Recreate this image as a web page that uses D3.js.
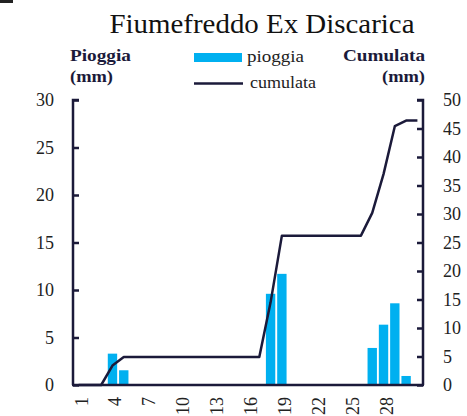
<!DOCTYPE html>
<html><head><meta charset="utf-8">
<script src="https://cdn.jsdelivr.net/npm/d3@7"></script>
<style>body{margin:0;background:#fff}svg{display:block}</style>
</head><body>
<script>
const days = d3.range(1, 32);
const pioggia = [0,0,0,3.3,1.55,0,0,0,0,0,0,0,0,0,0,0,0,9.6,11.7,0,0,0,0,0,0,0,3.9,6.35,8.6,0.95,0];
const cumulata = [0,0,0,3.4,4.9,4.9,4.9,4.9,4.9,4.9,4.9,4.9,4.9,4.9,4.9,4.9,4.9,14.5,26.2,26.2,26.2,26.2,26.2,26.2,26.2,26.2,30.2,37.0,45.4,46.4,46.4];
const leftTicks = [0,5,10,15,20,25,30];
const rightTicks = [0,5,10,15,20,25,30,35,40,45,50];
const xLabels = [1,4,7,10,13,16,19,22,25,28];

const W = 467, H = 416;
const axisCol = "#1b1a3a", barCol = "#00b0f0", txtCol = "#222";
const serif = "'Liberation Serif', 'DejaVu Serif', serif";
const svg = d3.select("body").append("svg").attr("width", W).attr("height", H);
svg.append("rect").attr("width", W).attr("height", H).attr("fill", "#fff");
svg.append("rect").attr("x", 0).attr("y", 0).attr("width", 13).attr("height", 3).attr("fill", "#222");

const x = d3.scaleBand().domain(days).range([73, 423]).paddingInner(0.17).paddingOuter(0.08);
const yL = d3.scaleLinear().domain([0, 30]).range([385, 100]);
const yR = d3.scaleLinear().domain([0, 50]).range([385, 100]);

// bars
svg.append("g").selectAll("rect").data(days).join("rect")
  .attr("x", d => x(d)).attr("width", x.bandwidth())
  .attr("y", (d, i) => yL(pioggia[i])).attr("height", (d, i) => yL(0) - yL(pioggia[i]))
  .attr("fill", barCol);

// line
const line = d3.line().x((d, i) => x(days[i]) + x.bandwidth() / 2).y(d => yR(d));
svg.append("path").datum(cumulata).attr("d", line).attr("fill", "none")
  .attr("stroke", axisCol).attr("stroke-width", 2.5).attr("stroke-linejoin", "round");

// axes
const gL = svg.append("g").attr("transform", "translate(73,0)")
  .call(d3.axisRight(yL).tickValues(leftTicks).tickSize(6).tickFormat(""));
const gR = svg.append("g").attr("transform", "translate(423,0)")
  .call(d3.axisLeft(yR).tickValues(rightTicks).tickSize(6).tickFormat(""));
[gL, gR].forEach(g => {
  g.select(".domain").attr("stroke", axisCol).attr("stroke-width", 2.5);
  g.selectAll(".tick line").attr("stroke", axisCol).attr("stroke-width", 2.5);
});
gL.select(".domain").attr("d", "M6,100H0V385");
gR.select(".domain").attr("d", "M-6,100H0V385");
svg.append("line").attr("x1", 72).attr("x2", 424).attr("y1", yL(0)).attr("y2", yL(0))
  .attr("stroke", axisCol).attr("stroke-width", 2.5);

// tick labels
svg.append("g").selectAll("text").data(leftTicks).join("text")
  .attr("x", 54).attr("y", d => yL(d)).attr("dy", "0.35em").attr("text-anchor", "end")
  .attr("font-family", serif).attr("font-size", 18).attr("fill", txtCol).text(d => d);
svg.append("g").selectAll("text").data(rightTicks).join("text")
  .attr("x", 443).attr("y", d => yR(d)).attr("dy", "0.35em").attr("text-anchor", "start")
  .attr("font-family", serif).attr("font-size", 18).attr("fill", txtCol).text(d => d);
svg.append("g").selectAll("text").data(xLabels).join("text")
  .attr("transform", d => `translate(${x(d) + x.bandwidth() / 2},397) rotate(-90)`)
  .attr("dy", "0.5em").attr("text-anchor", "end")
  .attr("font-family", serif).attr("font-size", 18).attr("fill", txtCol).text(d => d);

// title
svg.append("text").attr("x", 262).attr("y", 33).attr("text-anchor", "middle")
  .attr("font-family", serif).attr("font-size", 27).attr("fill", "#111")
  .attr("textLength", 305).attr("lengthAdjust", "spacingAndGlyphs").text("Fiumefreddo Ex Discarica");

// axis titles
const bold = (t, xx, yy, anchor, len) => svg.append("text").attr("x", xx).attr("y", yy)
  .attr("text-anchor", anchor).attr("font-family", serif).attr("font-weight", "bold")
  .attr("font-size", 17).attr("fill", "#1b1a3a").attr("textLength", len)
  .attr("lengthAdjust", "spacingAndGlyphs").text(t);
bold("Pioggia", 70, 61, "start", 61);
bold("(mm)", 70, 82, "start", 43);
bold("Cumulata", 425, 61, "end", 82);
bold("(mm)", 425, 82, "end", 43);

// legend
svg.append("rect").attr("x", 194).attr("y", 53).attr("width", 48).attr("height", 9).attr("fill", barCol);
svg.append("text").attr("x", 247).attr("y", 62).attr("font-family", serif).attr("font-size", 17)
  .attr("fill", txtCol).attr("textLength", 57).attr("lengthAdjust", "spacingAndGlyphs").text("pioggia");
svg.append("line").attr("x1", 194).attr("x2", 243).attr("y1", 83.5).attr("y2", 83.5)
  .attr("stroke", axisCol).attr("stroke-width", 2.5);
svg.append("text").attr("x", 250).attr("y", 88).attr("font-family", serif).attr("font-size", 17)
  .attr("fill", txtCol).attr("textLength", 66).attr("lengthAdjust", "spacingAndGlyphs").text("cumulata");
</script>
</body></html>
